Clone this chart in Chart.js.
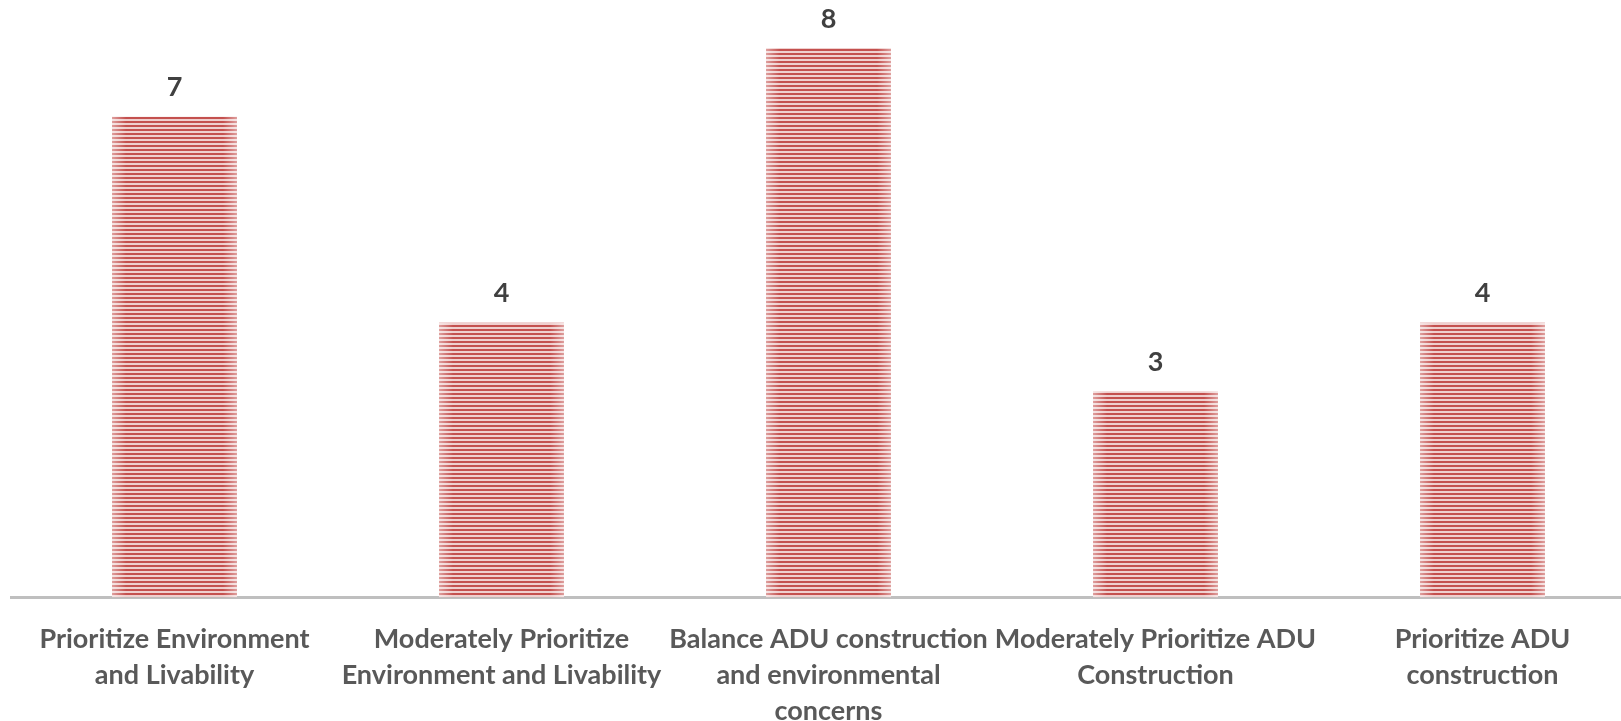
<!DOCTYPE html>
<html lang="en">
<head>
  <meta charset="UTF-8" />
  <title>ADU priorities</title>
  <script src="https://cdn.jsdelivr.net/npm/chart.js"></script>
  <style>
    html, body {
      margin: 0;
      padding: 0;
      background: #fff;
      overflow: hidden;
    }
    #wrap {
      position: absolute;
      left: 0;
      top: 0;
      width: 1650px;
      height: 745px;
    }
  </style>
</head>
<body>
  <div id="wrap"><canvas id="barChart"></canvas></div>

  <script>
    const categories = [
      ['Prioritize Environment', 'and Livability'],
      ['Moderately Prioritize', 'Environment and Livability'],
      ['Balance ADU construction', 'and environmental', 'concerns'],
      ['Moderately Prioritize ADU', 'Construction'],
      ['Prioritize ADU', 'construction']
    ];
    const counts = [7, 4, 8, 3, 4];

    // horizontal stripe fill like the original
    function stripes() {
      const c = document.createElement('canvas');
      c.width = 1;
      c.height = 4;
      const g = c.getContext('2d');
      g.fillStyle = '#efcfce';
      g.fillRect(0, 0, 1, 4);
      g.fillStyle = '#c4504e';
      g.fillRect(0, 1, 1, 2);
      return g.createPattern(c, 'repeat');
    }

    const valueLabels = {
      id: 'valueLabels',
      afterDatasetsDraw(chart) {
        const ctx = chart.ctx;
        const meta = chart.getDatasetMeta(0);
        ctx.save();
        ctx.font = 'bold 27px Lato';
        ctx.textAlign = 'center';
        ctx.textBaseline = 'middle';
        meta.data.forEach((bar, i) => {
          // soft edges on each bar
          const half = bar.width / 2;
          ['l', 'r'].forEach(side => {
            const x0 = side === 'l' ? bar.x - half : bar.x + half;
            const x1 = side === 'l' ? x0 + 14 : x0 - 14;
            const gr = ctx.createLinearGradient(x0, 0, x1, 0);
            gr.addColorStop(0, 'rgba(255,255,255,0.45)');
            gr.addColorStop(1, 'rgba(255,255,255,0)');
            ctx.fillStyle = gr;
            ctx.fillRect(Math.min(x0, x1), bar.y, 14, bar.base - bar.y);
          });
          ctx.fillStyle = '#404040';
          ctx.fillText(counts[i], bar.x, bar.y - 29);
        });
        ctx.restore();
      }
    };

    new Chart(document.getElementById('barChart'), {
      type: 'bar',
      data: {
        labels: categories,
        datasets: [{
          data: counts,
          backgroundColor: stripes(),
          borderWidth: 0,
          barPercentage: 0.382,
          categoryPercentage: 1
        }]
      },
      options: {
        responsive: true,
        maintainAspectRatio: false,
        animation: false,
        layout: { padding: { top: 48, left: 11, right: 4, bottom: 0 } },
        plugins: {
          legend: { display: false },
          tooltip: { enabled: false }
        },
        scales: {
          x: {
            grid: { display: false },
            border: { color: '#bfbfbf', width: 3 },
            ticks: {
              color: '#595959',
              font: { family: 'Lato', size: 27, weight: 'bold', lineHeight: 1.33 },
              padding: 16,
              maxRotation: 0,
              autoSkip: false
            }
          },
          y: {
            display: false,
            min: 0,
            max: 8
          }
        }
      },
      plugins: [valueLabels]
    });
  </script>
</body>
</html>
